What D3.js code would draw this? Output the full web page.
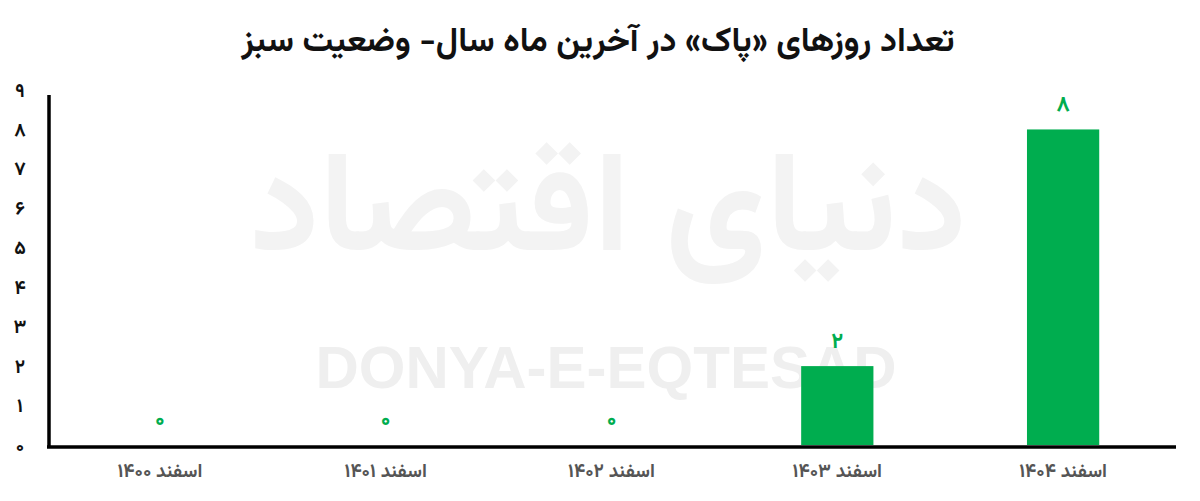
<!DOCTYPE html>
<html><head><meta charset="utf-8">
<script src="https://cdn.jsdelivr.net/npm/d3@7"></script>
<style>
body{margin:0;background:#fff;}
svg{display:block;}
text{font-family:"Vazirmatn","Noto Sans Arabic","DejaVu Sans",sans-serif;}
</style></head>
<body><svg id="c" width="1200" height="501"></svg>
<script>
const title = "تعداد روزهای «پاک» در آخرین ماه سال- وضعیت سبز";
const categories = ["اسفند ۱۴۰۰","اسفند ۱۴۰۱","اسفند ۱۴۰۲","اسفند ۱۴۰۳","اسفند ۱۴۰۴"];
const values = [0,0,0,2,8];
const yTicks = [0,1,2,3,4,5,6,7,8,9];
const toFa = n => String(n).replace(/\d/g, d => "۰۱۲۳۴۵۶۷۸۹"[d]);

const svg = d3.select("#c");
const green = "#00ad4f";

// watermark
svg.append("text").attr("x",608).attr("y",250).attr("text-anchor","middle")
  .attr("font-size",140).attr("font-weight","bold").attr("fill","#f3f3f3")
  .attr("direction","rtl").text("دنیای اقتصاد");
svg.append("text").attr("x",606).attr("y",388).attr("text-anchor","middle")
  .style("font-family","'Liberation Sans',Arial,sans-serif")
  .attr("font-size",60).attr("font-weight","bold").attr("fill","#efefef")
  .text("DONYA-E-EQTESAD");

const x = d3.scaleBand().domain(categories).range([47,1176]).paddingInner(0.68).paddingOuter(0.34);
const y = d3.scaleLinear().domain([0,9]).range([445,90]);

// title
svg.append("text").attr("x",598).attr("y",51).attr("text-anchor","middle")
  .attr("font-size",34).attr("font-weight","bold").attr("fill","#111")
  .attr("direction","rtl").text(title);

// bars
svg.selectAll("rect.bar").data(values).join("rect").attr("class","bar")
  .attr("x",(d,i)=>x(categories[i])).attr("width",x.bandwidth())
  .attr("y",d=>y(d)).attr("height",d=>y(0)-y(d)).attr("fill",green);

// value labels
svg.selectAll("text.val").data(values).join("text").attr("class","val")
  .attr("x",(d,i)=>x(categories[i])+x.bandwidth()/2)
  .attr("y",d=>y(d)-18).attr("text-anchor","middle")
  .attr("font-size",22).attr("font-weight","bold").attr("fill",green)
  .text(d=>toFa(d));

// y axis
const yAxis = d3.axisLeft(y).tickValues(yTicks).tickSize(0).tickFormat(toFa);
const gy = svg.append("g").attr("transform","translate(49,0)").call(yAxis);
gy.select(".domain").remove();
gy.selectAll("text").attr("x",-29).attr("text-anchor","middle")
  .attr("font-size",19).attr("font-weight","bold").attr("fill","#111").style("font-family",null);
svg.append("line").attr("x1",49).attr("x2",49).attr("y1",95).attr("y2",448)
  .attr("stroke","#000").attr("stroke-width",3.5);

// x axis
const xAxis = d3.axisBottom(x).tickSize(0);
const gx = svg.append("g").attr("transform","translate(0,447)").call(xAxis);
gx.select(".domain").remove();
gx.selectAll("text").attr("dy",0).attr("y",30).attr("direction","rtl")
  .attr("font-size",19).attr("font-weight","bold").attr("fill","#555").style("font-family",null);
svg.append("line").attr("x1",47).attr("x2",1176).attr("y1",447).attr("y2",447)
  .attr("stroke","#000").attr("stroke-width",3.5);
</script></body></html>
